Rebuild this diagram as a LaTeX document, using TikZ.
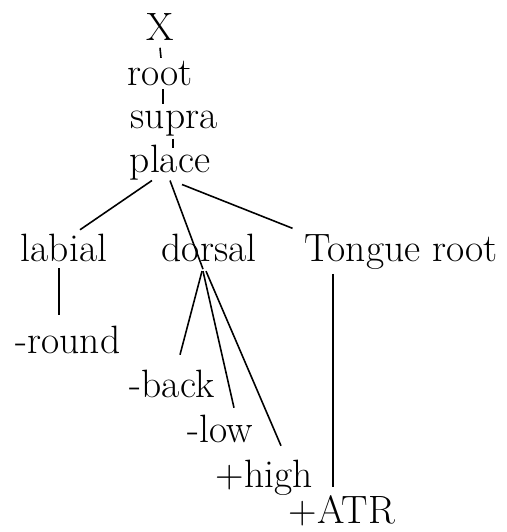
\documentclass[tikz,border=0pt]{standalone}
\usetikzlibrary{calc}

\begin{document}
\begin{tikzpicture}[x=0.02cm, y=-0.02cm, line width=0.9pt,
    feat/.style={inner sep=0pt, anchor=base,
                 font=\fontsize{22.5}{27}\selectfont}]
  \useasboundingbox (0,0) rectangle (507,532);
  % spine
  \node[feat] (x)      at (160,40)  {X};
  \node[feat] (root)   at (160,85)  {root};
  \node[feat] (supra)  at (174,128) {supra};
  \node[feat] (place)  at (170,172) {place};
  % articulators
  \node[feat] (labial) at (64,261)  {labial};
  \node[feat] (dorsal) at (209,261) {dorsal};
  \node[feat] (tongue) at (401,261) {Tongue root};
  % features
  \node[feat] (round)  at (68,353)  {-round};
  \node[feat] (back)   at (172,397) {-back};
  \node[feat] (low)    at (220,442) {-low};
  \node[feat] (high)   at (264,487) {+high};
  \node[feat] (atr)    at (342,523) {+ATR};
  \draw ($(x.south)+(0,7)$)        -- ($(root.north)+(1,-2)$);
  \draw ($(root.south)+(3,3)$)     -- ($(supra.north)+(-11,-6)$);
  \draw ($(supra.south)+(-1,2)$)   -- ($(place.north)+(3,4)$);
  \draw ($(place.south)+(-18,0)$)  -- ($(labial.north)+(16,-3)$);
  \draw (place.south)              -- ($(dorsal.south)+(-6,7)$);
  \draw ($(place.south)+(12,4)$)   -- ($(tongue.north west)+(-11,-5)$);
  \draw ($(labial.south)+(-5,6)$)  -- ($(round.north)+(-9,-10)$);
  \draw ($(dorsal.south)+(-7,9)$)  -- ($(back.north)+(8,-14)$);
  \draw ($(dorsal.south)+(-6,9)$)  -- ($(low.north)+(14,-6)$);
  \draw ($(dorsal.south)+(-3,9)$)  -- ($(high.north)+(17,-13)$);
  \draw ($(tongue.south)+(-68,4)$) -- ($(atr.north)+(-9,-7)$);
\end{tikzpicture}
\end{document}
